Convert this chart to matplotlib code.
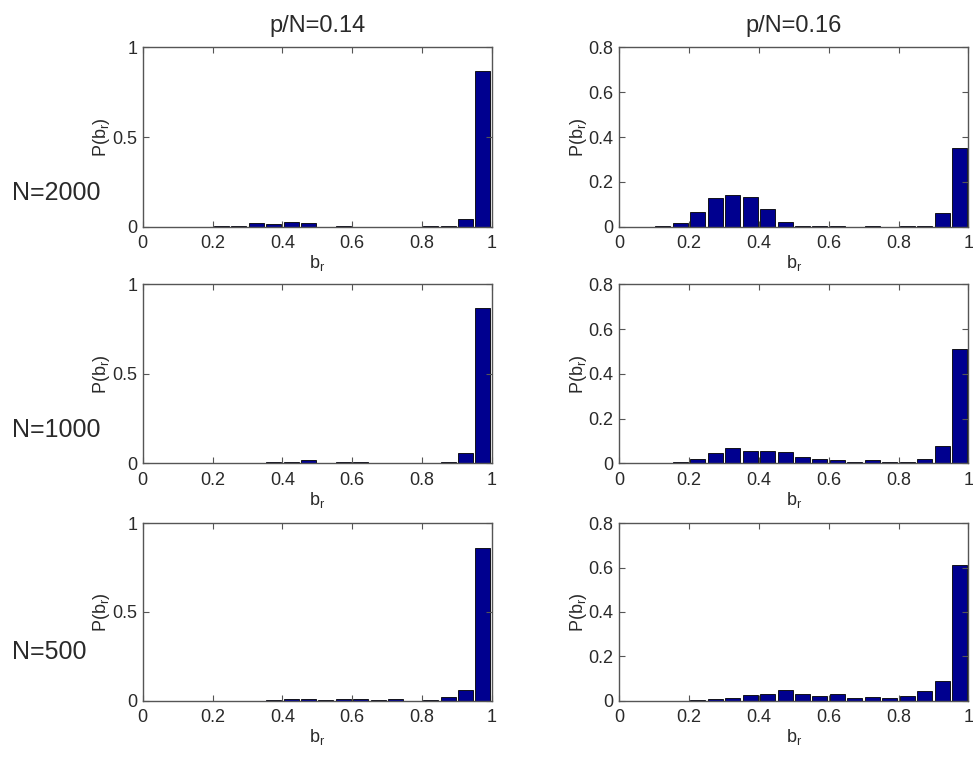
import numpy as np
import matplotlib
matplotlib.use("Agg")
import matplotlib.pyplot as plt

plt.rcParams['font.family'] = ['Liberation Sans', 'DejaVu Sans']
plt.rcParams['mathtext.fontset'] = 'custom'
plt.rcParams['mathtext.rm'] = 'Liberation Sans'

# bin centres of the histograms
bin_centers = [0.025, 0.075, 0.125, 0.175, 0.225, 0.275, 0.325, 0.375, 0.425, 0.475,
               0.525, 0.575, 0.625, 0.675, 0.725, 0.775, 0.825, 0.875, 0.925, 0.975]

col_titles = ["p/N=0.14", "p/N=0.16"]
row_labels = ["N=2000", "N=1000", "N=500"]

# p/N = 0.14
p014_N2000 = [0, 0, 0, 0.001, 0.002, 0.004, 0.019, 0.015, 0.028, 0.019,
              0, 0.003, 0, 0, 0, 0, 0.002, 0.002, 0.043, 0.87]
p014_N1000 = [0, 0, 0, 0, 0, 0.003, 0.004, 0.006, 0.005, 0.019,
              0, 0.005, 0.006, 0.002, 0.002, 0.002, 0.002, 0.009, 0.056, 0.866]
p014_N500 = [0, 0, 0, 0, 0, 0, 0, 0.003, 0.009, 0.011,
             0.004, 0.008, 0.011, 0.002, 0.009, 0.001, 0.002, 0.023, 0.06, 0.859]

# p/N = 0.16
p016_N2000 = [0, 0, 0.004, 0.016, 0.067, 0.126, 0.14, 0.134, 0.08, 0.021,
              0.003, 0.002, 0.001, 0, 0.002, 0, 0.002, 0.003, 0.061, 0.35]
p016_N1000 = [0, 0, 0.002, 0.007, 0.021, 0.048, 0.067, 0.057, 0.054, 0.051,
              0.028, 0.019, 0.016, 0.007, 0.013, 0.007, 0.007, 0.019, 0.079, 0.511]
p016_N500 = [0, 0, 0, 0, 0.002, 0.007, 0.011, 0.026, 0.032, 0.047,
             0.03, 0.023, 0.029, 0.014, 0.015, 0.011, 0.021, 0.044, 0.087, 0.612]

data = [[p014_N2000, p016_N2000],
        [p014_N1000, p016_N1000],
        [p014_N500, p016_N500]]

ylims = [1.0, 0.8]
yticks = [[0, 0.5, 1], [0, 0.2, 0.4, 0.6, 0.8]]
yticklabels = [["0", "0.5", "1"], ["0", "0.2", "0.4", "0.6", "0.8"]]
xticks = [0, 0.2, 0.4, 0.6, 0.8, 1.0]
xticklabels = ["0", "0.2", "0.4", "0.6", "0.8", "1"]

W, H = 973, 758
fig = plt.figure(figsize=(W / 100, H / 100), dpi=100)

txt = '#2a2a2a'
spine_c = '#555555'
bar_c = '#00008f'

col_x = [142.7, 619.3]
ax_w = 349.0
row_y = [(47.5, 226.7), (284.3, 463.3), (523.3, 700.7)]

for r in range(3):
    for c in range(2):
        top, bot = row_y[r]
        ax = fig.add_axes([col_x[c] / W, 1 - bot / H, ax_w / W, (bot - top) / H])
        ax.bar(bin_centers, data[r][c], width=0.043, color=bar_c,
               edgecolor='black', linewidth=0.6)
        ax.set_xlim(0, 1)
        ax.set_ylim(0, ylims[c])
        ax.set_xticks(xticks)
        ax.set_xticklabels(xticklabels)
        ax.set_yticks(yticks[c])
        ax.set_yticklabels(yticklabels[c])
        ax.tick_params(direction='in', top=True, right=True, length=4,
                       width=0.8, color=spine_c, labelsize=13, labelcolor=txt)
        ax.tick_params(axis='y', pad=4)
        ax.tick_params(axis='x', pad=6)
        for s in ax.spines.values():
            s.set_color(spine_c)
            s.set_linewidth(1.0)
        ax.set_xlabel(r'$\mathregular{b_r}$', fontsize=13, color=txt, labelpad=1)
        ax.set_ylabel(r'$\mathregular{P(b_r)}$', fontsize=13, color=txt, labelpad=0)
        if r == 0:
            ax.set_title(col_titles[c], fontsize=17, color=txt, pad=11)

row_centers = [193, 430, 652]
for lab, yc in zip(row_labels, row_centers):
    fig.text(12 / W, 1 - yc / H, lab, fontsize=18, color=txt, ha='left', va='center')

fig.savefig('out.png', dpi=100)
